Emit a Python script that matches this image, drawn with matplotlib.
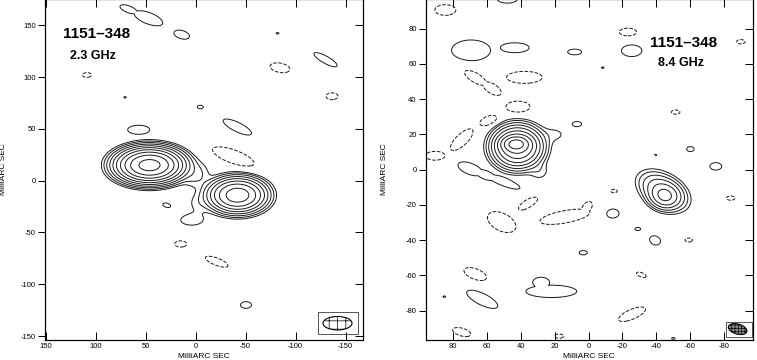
import numpy as np
import matplotlib.pyplot as plt
from matplotlib.patches import Ellipse, Rectangle

plt.rcParams['font.family'] = ['Liberation Sans', 'DejaVu Sans']
plt.rcParams['axes.unicode_minus'] = False
plt.rcParams['hatch.linewidth'] = 0.5

# contour levels (multiples of the lowest level)
levels = [-1, 1, 2, 4, 8, 16, 32, 64, 128, 256, 512]

# ---- 2.3 GHz: source components (x, y in mas, peak, sigma_x, sigma_y, pa deg)
s_x = [46, -42, 0, 4, -3]
s_y = [15, -14, 6, -38, -22]
s_amp = [700, 200, 2.5, 1.6, 1.3]
s_sx = [13.3, 12, 9, 11, 8]
s_sy = [6.8, 7.1, 8, 5, 7]
s_pa = [0, 0, 0, 0, 0]

# 2.3 GHz: low-level blobs (x, y, sign, semi-major, semi-minor, pa deg)
s_nx = [67, 47, 13.8, -82, -130, 70.5, -4.8, 56.8, -41.8, 28.8, -50.5,
        108.5, -84.5, -136.5, -37.8, 14.8, -21.2]
s_ny = [165.5, 156.8, 141, 142.3, 116.8, 80.5, 71.1, 49.2, 51.8, -23.7, -120,
        102, 109, 81.5, 23.2, -61.1, -78.2]
s_nsign = [1, 1, 1, 1, 1, 1, 1, 1, 1, 1, 1,
           -1, -1, -1, -1, -1, -1]
s_na = [9, 15, 8, 1.5, 13, 1.2, 3, 11, 15.5, 4, 5.5,
        4.5, 10, 6, 22, 6, 12]
s_nb = [3.3, 5.5, 4, 0.6, 3.5, 0.7, 1.7, 4.3, 4.5, 2, 3.2,
        2.3, 4.5, 3.3, 6.5, 3, 3.5]
s_npa = [20, 20, 15, 0, 28, 0, 0, 0, 25, 15, 0,
         0, 10, 0, 19, 0, 20]

# ---- 8.4 GHz: source components
x_x = [43, 42, 20, 29, -45, -44]
x_y = [14.6, 13, 20, -1, -15, -12]
x_amp = [250, 150, 1.2, 1.5, 30, 16]
x_sx = [4, 6.3, 6, 4, 4.5, 7.5]
x_sy = [2.2, 5.1, 3.5, 3.5, 3.5, 4.5]
x_pa = [0, 0, 0, 0, 10, 28]

# 8.4 GHz: low-level blobs
x_nx = [69.4, 43.6, 8.2, -25.5, -8.4, 6.8, -60.2, -75.2, -14.1, -29.1, -39.3,
        3.1, 22, 28, 62.8, 85.2, -50.1, 48, 70, 61, 50,
        84.6, -23.3, -90, 67.1, 57, 37.9, 41.7, 59, 74.9, 90.5, -51.5,
        -39.5, -15.1, -84, 35.6, 51.3, 13.9, 1, -59.2, 66.9, -31.2,
        -25.7, 74.9, 17.3]
x_ny = [67.7, 69.2, 66.8, 67.5, 57.9, 25.9, 11.7, 1.9, -24.7, -33.6, -40.1,
        -47.1, -69, -64, -73.5, -72, -95.7, 97, 0.5, -3, -7,
        90.6, 78.1, 72.6, 52.4, 46, 52.4, 35.7, 27.8, 17, 7.9, 32.7,
        8.3, -12.1, -16.1, -19.1, -29.7, -26.7, -21.5, -39.9, -59.2, -59.6,
        -82, -92.1, -94.4]
x_nsign = [1, 1, 1, 1, 1, 1, 1, 1, 1, 1, 1,
           1, 1, 1, 1, 1, 1, 1, 1, 1, 1,
           -1, -1, -1, -1, -1, -1, -1, -1, -1, -1, -1,
           -1, -1, -1, -1, -1, -1, -1, -1, -1, -1,
           -1, -1, -1]
x_na = [11.5, 8.5, 4.1, 6, 0.8, 2.7, 2.2, 3.5, 4.1, 1.7, 3.3,
        2.4, 15, 5, 10, 0.8, 1, 6, 7.5, 6, 10,
        6.2, 5.1, 2.5, 7.5, 6, 10.5, 7.1, 5.5, 8.5, 6, 2.5,
        0.8, 1.9, 2.5, 6.5, 9, 15, 4, 2.2, 7, 3,
        8.5, 5.5, 2.7]
x_nb = [5.9, 2.8, 1.6, 3.3, 0.4, 1.4, 1.4, 2.1, 2.8, 0.9, 2.5,
        1.2, 3.5, 3, 3.3, 0.4, 0.5, 2.5, 3.2, 2.4, 2.2,
        3, 2.2, 1.2, 2.8, 2.8, 3.4, 3.2, 2.6, 3.3, 2.5, 1.2,
        0.4, 1, 1.2, 2.3, 5, 3.5, 2.5, 1.1, 3, 1.2,
        2.8, 2.2, 1.2]
x_npa = [0, 0, 0, 0, 0, 0, 0, 0, 0, 0, 20,
         0, 0, 0, 25, 0, 0, 0, 20, 20, 20,
         0, 0, 0, 30, 30, 0, 0, -20, -42, 0, 0,
         0, 0, 0, -30, 25, -10, -50, 0, 20, 20,
         -22, 15, 0]

BLOB_PEAK = 1.9


def gauss(xx, yy, x0, y0, a, sx, sy, pa):
    t = np.radians(pa)
    dx, dy = xx - x0, yy - y0
    u = dx * np.cos(t) + dy * np.sin(t)
    v = -dx * np.sin(t) + dy * np.cos(t)
    return a * np.exp(-0.5 * ((u / sx) ** 2 + (v / sy) ** 2))


def make_map(xlim, ylim, comps, blobs):
    xs = np.linspace(min(xlim) - 5, max(xlim) + 5, 700)
    ys = np.linspace(min(ylim) - 5, max(ylim) + 5, 700)
    xx, yy = np.meshgrid(xs, ys)
    f = np.zeros_like(xx)
    for c in zip(*comps):
        f += gauss(xx, yy, *c)
    # low-level blobs: union (max / min) so overlaps never add up
    pos = np.zeros_like(xx)
    neg = np.zeros_like(xx)
    k = np.sqrt(2 * np.log(BLOB_PEAK))
    for bx, by, sgn, ba, bb, bpa in zip(*blobs):
        g = gauss(xx, yy, bx, by, BLOB_PEAK, ba / k, bb / k, bpa)
        if sgn > 0:
            pos = np.maximum(pos, g)
        else:
            neg = np.maximum(neg, g)
    return xx, yy, f + pos - neg


def draw_panel(ax, xlim, ylim, comps, blobs, ticks_x, ticks_y, beam, box,
               hatch, beam_fc, ylab_x):
    xx, yy, f = make_map(xlim, ylim, comps, blobs)
    ax.contour(xx, yy, f, levels=levels, colors='#1a1a1a', linewidths=0.7)
    ax.set_xlim(xlim)
    ax.set_ylim(ylim)
    ax.set_xticks(ticks_x)
    ax.set_yticks(ticks_y)
    ax.tick_params(axis='x', direction='in', top=True, bottom=True,
                   length=5.5, width=0.7, labelsize=5.5, pad=2)
    ax.tick_params(axis='y', direction='out', left=True, right=False,
                   length=5, width=0.7, labelsize=5.5, pad=1.5)
    tw = ax.twinx()
    tw.set_ylim(ylim)
    tw.set_yticks(ticks_y)
    tw.tick_params(axis='y', direction='in', length=5.5, width=0.7,
                   labelright=False)
    for sp in list(ax.spines.values()) + list(tw.spines.values()):
        sp.set_linewidth(0.8)
    ax.set_xlabel('MilliARC SEC', fontsize=6, labelpad=1)
    ax.set_ylabel('MilliARC SEC', fontsize=6)
    ax.yaxis.set_label_coords(ylab_x, 0.5)
    ax.xaxis.set_label_coords(0.5, -0.037)
    bx0, by0, bw, bh = box
    ax.add_patch(Rectangle((bx0, by0), bw, bh, fill=False, lw=0.7,
                           ec='#555555'))
    ex, ey, ew, eh, ea = beam
    ax.add_patch(Ellipse((ex, ey), ew, eh, angle=ea, fc=beam_fc,
                         ec='black', lw=0.8, hatch=hatch))


fig = plt.figure(figsize=(7.57, 3.6), dpi=100)
ax1 = fig.add_axes([45 / 757, 20 / 360, 318 / 757, 341 / 360])
ax2 = fig.add_axes([425.7 / 757, 20 / 360, 327 / 757, 341 / 360])

draw_panel(ax1, (150.5, -167.5), (-153.8, 175.4),
           (s_x, s_y, s_amp, s_sx, s_sy, s_pa),
           (s_nx, s_ny, s_nsign, s_na, s_nb, s_npa),
           [150, 100, 50, 0, -50, -100, -150],
           [150, 100, 50, 0, -50, -100, -150],
           (-142, -137.6, 29, 13, 0), (-162.5, -147.9, 40, 21.2),
           '++', 'white', -0.118)
draw_panel(ax2, (96.2, -97.0), (-96.6, 96.85),
           (x_x, x_y, x_amp, x_sx, x_sy, x_pa),
           (x_nx, x_ny, x_nsign, x_na, x_nb, x_npa),
           [80, 60, 40, 20, 0, -20, -40, -60, -80],
           [80, 60, 40, 20, 0, -20, -40, -60, -80],
           (-88.1, -90.4, 11.2, 5.7, 15), (-96.5, -94.9, 15.4, 8.5),
           '+++++', '#888888', -0.116)

ax1.text(132.5, 141.6, '1151\u2013348', fontsize=11, fontweight='bold',
         ha='left', va='center')
ax1.text(125.5, 120.7, '2.3 GHz', fontsize=9, fontweight='bold',
         ha='left', va='center')
ax2.text(-36.3, 71.7, '1151\u2013348', fontsize=11, fontweight='bold',
         ha='left', va='center')
ax2.text(-41.1, 60.7, '8.4 GHz', fontsize=9, fontweight='bold',
         ha='left', va='center')

fig.savefig('out.png', dpi=100)
